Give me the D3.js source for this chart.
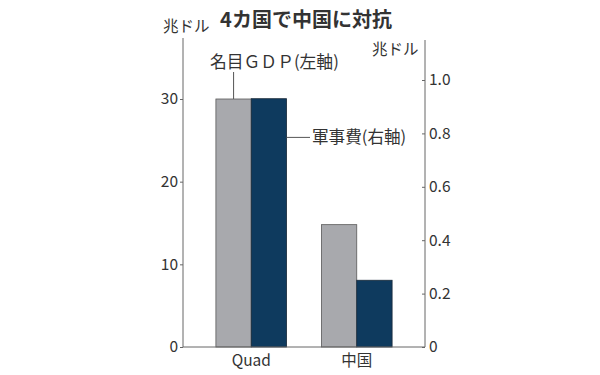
<!DOCTYPE html>
<html>
<head>
<meta charset="utf-8">
<script src="https://cdn.jsdelivr.net/npm/d3@7"></script>
<style>
  body { margin: 0; background: #fff; }
  svg text { font-family: "Noto Sans CJK JP", "Noto Sans", sans-serif; fill: #333; }
</style>
</head>
<body>
<script>
// data
var categories = ["Quad", "中国"];
var gdp = [30, 14.8];          // 名目GDP, left axis (兆ドル)
var military = [0.93, 0.25];   // 軍事費, right axis (兆ドル)
var leftTicks = [0, 10, 20, 30];
var rightTicks = [0, 0.2, 0.4, 0.6, 0.8, 1.0];

var svg = d3.select("body").append("svg").attr("width", 600).attr("height", 375);

var x0 = 183, x1 = 425, yBase = 347, yTop = 38;

var x = d3.scaleBand().domain(categories).range([198.5, 409.5])
    .paddingInner(0.33).paddingOuter(0.165);
var yL = d3.scaleLinear().domain([0, 30]).range([yBase, 99]);
var yR = d3.scaleLinear().domain([0, 1]).range([yBase, 80]);

var bw = x.bandwidth() / 2;

// bars
svg.selectAll("rect.gdp").data(gdp).enter().append("rect")
    .attr("class", "gdp")
    .attr("x", function (d, i) { return x(categories[i]); })
    .attr("y", function (d) { return yL(d); })
    .attr("width", bw)
    .attr("height", function (d) { return yBase - yL(d); })
    .attr("fill", "#a8a9ad").attr("stroke", "#5a5a5a").attr("stroke-width", 0.8);

svg.selectAll("rect.mil").data(military).enter().append("rect")
    .attr("class", "mil")
    .attr("x", function (d, i) { return x(categories[i]) + bw; })
    .attr("y", function (d) { return yR(d); })
    .attr("width", bw)
    .attr("height", function (d) { return yBase - yR(d); })
    .attr("fill", "#0e3a5e").attr("stroke", "#1a2a3a").attr("stroke-width", 0.8);

// axes
var axL = d3.axisLeft(yL).tickValues(leftTicks).tickSize(3).tickPadding(2).tickFormat(d3.format("d"));
var gL = svg.append("g").attr("transform", "translate(" + x0 + ",0)").call(axL);
gL.select(".domain").remove();
gL.selectAll("line").attr("stroke", "#666");
gL.selectAll("text").style("font-size", "15.5px").attr("fill", "#333");

var axR = d3.axisRight(yR).tickValues(rightTicks).tickSize(-3).tickPadding(4)
    .tickFormat(function (d) { return d === 0 ? "0" : d3.format(".1f")(d); });
var gR = svg.append("g").attr("transform", "translate(" + x1 + ",0)").call(axR);
gR.select(".domain").remove();
gR.selectAll("line").attr("stroke", "#666");
gR.selectAll("text").style("font-size", "15.5px").attr("fill", "#333");

// axis lines
svg.append("line").attr("x1", x0).attr("x2", x0).attr("y1", yTop).attr("y2", yBase).attr("stroke", "#666");
svg.append("line").attr("x1", x1).attr("x2", x1).attr("y1", 40).attr("y2", yBase).attr("stroke", "#666");
svg.append("line").attr("x1", x0).attr("x2", x1).attr("y1", yBase).attr("y2", yBase).attr("stroke", "#666");

// category labels
svg.selectAll("text.cat").data(categories).enter().append("text")
    .attr("class", "cat")
    .attr("x", function (d) { return x(d) + x.bandwidth() / 2; })
    .attr("y", 366)
    .attr("text-anchor", "middle")
    .style("font-size", "15.5px")
    .text(function (d) { return d; });

// title and units
svg.append("text").attr("x", 306).attr("y", 27).attr("text-anchor", "middle")
    .style("font-size", "20px").style("font-weight", "bold").attr("fill", "#222")
    .text("4カ国で中国に対抗");
svg.append("text").attr("x", 163).attr("y", 32).style("font-size", "15.5px").text("兆ドル");
svg.append("text").attr("x", 372).attr("y", 55).style("font-size", "15.5px").text("兆ドル");

// series labels with leader lines
var gx = x(categories[0]) + bw / 2;
svg.append("line").attr("x1", gx).attr("x2", gx).attr("y1", 72).attr("y2", yL(gdp[0]))
    .attr("stroke", "#555");
svg.append("text").attr("x", 210).attr("y", 68).style("font-size", "16.8px").text("名目ＧＤＰ(左軸)");

var my = yR(0.8) + 4;
svg.append("line").attr("x1", x(categories[0]) + 2 * bw).attr("x2", 310).attr("y1", my).attr("y2", my)
    .attr("stroke", "#555");
svg.append("text").attr("x", 312).attr("y", 143).style("font-size", "16.6px").text("軍事費(右軸)");
</script>
</body>
</html>
